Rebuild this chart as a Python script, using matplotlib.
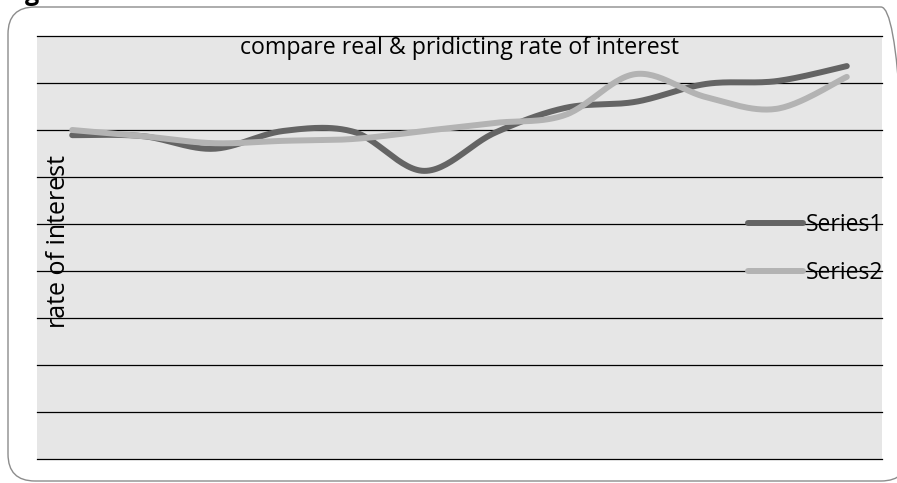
import numpy as np
import matplotlib
matplotlib.use("Agg")
import matplotlib.pyplot as plt
from matplotlib.patches import FancyBboxPatch
from matplotlib.transforms import IdentityTransform

categories = list(range(1, 13))
series1 = [6.89, 6.87, 6.60, 6.98, 6.96, 6.13, 6.94, 7.47, 7.60, 7.98, 8.04, 8.36]
series2 = [7.00, 6.87, 6.72, 6.77, 6.81, 6.98, 7.15, 7.32, 8.19, 7.70, 7.45, 8.13]
series_names = ["Series1", "Series2"]
title = "compare real & pridicting rate of interest"
ylabel = "rate of interest"


def smooth(x, y, n=30):
    x = np.asarray(x, float)
    y = np.asarray(y, float)
    P = np.column_stack([x, y])
    P = np.vstack([P[0], P, P[-1]])
    out = []
    t = np.linspace(0, 1, n)
    for i in range(1, len(P) - 2):
        p0, p1, p2, p3 = P[i - 1], P[i], P[i + 1], P[i + 2]
        c1 = p1 + (p2 - p0) / 6.0
        c2 = p2 - (p3 - p1) / 6.0
        b = ((1 - t) ** 3)[:, None] * p1 + (3 * (1 - t) ** 2 * t)[:, None] * c1 \
            + (3 * (1 - t) * t ** 2)[:, None] * c2 + (t ** 3)[:, None] * p2
        out.append(b if i == 1 else b[1:])
    B = np.vstack(out)
    return B[:, 0], B[:, 1]


plt.rcParams['font.family'] = ['Open Sans', 'DejaVu Sans']

W, H = 897, 483
fig = plt.figure(figsize=(W / 100, H / 100), dpi=100)
fig.patch.set_facecolor("white")

# rounded outer border (pixel coordinates)
border = FancyBboxPatch((8, 2), 900, 474,
                        boxstyle="round,pad=0,rounding_size=27",
                        transform=IdentityTransform(), facecolor="none",
                        edgecolor="#8c8c8c", linewidth=1.0, clip_on=False)
fig.patches.append(border)
fig.text(25 / W, 1 - 0.5 / H, "g", fontsize=18, fontweight="bold",
         ha="left", va="baseline", color="black")

ax = fig.add_axes([37 / W, 1 - 459 / H, 845 / W, 423 / H])
ax.set_facecolor("#e6e6e6")
for s in ax.spines.values():
    s.set_visible(False)
ax.set_xlim(0.5, 12.5)
ax.set_ylim(0, 9)
for g in range(0, 10):
    ax.axhline(g, color="black", linewidth=0.9, zorder=1, clip_on=False)
ax.set_xticks([])
ax.set_yticks([])

colors = ["#646464", "#b3b3b3"]
for vals, name, c in zip([series1, series2], series_names, colors):
    xs, ys = smooth(categories, vals)
    ax.plot(xs, ys, color=c, linewidth=4.3, solid_capstyle="round", label=name, zorder=3)

ax.text(0.5, 0.9728, title, transform=ax.transAxes, ha="center", va="center",
        fontsize=16.7, color="black")
ax.text(0.026, 0.515, ylabel, transform=ax.transAxes, ha="center", va="center",
        rotation=90, fontsize=18, color="black")

leg = ax.legend(loc="center left", bbox_to_anchor=(0.841, 0.496), frameon=False,
                fontsize=16.5, handlelength=2.4, handletextpad=0.13,
                labelspacing=1.03, borderpad=0, borderaxespad=0)
for t in leg.get_texts():
    t.set_color("black")

fig.savefig("out.png", dpi=100)
